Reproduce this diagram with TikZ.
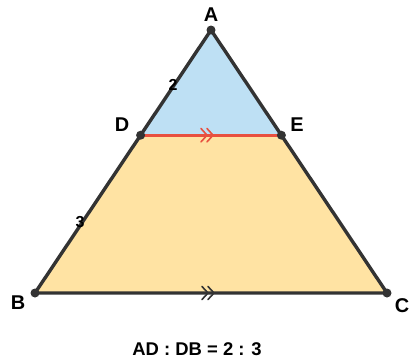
\documentclass[tikz,border=0pt]{standalone}
\usepackage{fontspec}
\setmainfont{Liberation Sans}
\definecolor{edge}{HTML}{333333}
\definecolor{topfill}{HTML}{BEE0F4}
\definecolor{botfill}{HTML}{FFE3A3}
\definecolor{redline}{HTML}{E8503F}
\begin{document}
\begin{tikzpicture}[x=1bp,y=-1bp,
  vlabel/.style={font=\bfseries\fontsize{20}{20}\selectfont},
  slabel/.style={font=\bfseries\fontsize{16}{16}\selectfont},
  dot/.style={circle,fill=edge,inner sep=0pt,minimum size=9bp},
  chev/.style={line width=1.6bp,line cap=round,line join=miter}]
\useasboundingbox (0,0) rectangle (409,362);
\coordinate (A) at (211,30);
\coordinate (B) at (35,293);
\coordinate (C) at (387,293);
\coordinate (D) at (140.6,135.2);
\coordinate (E) at (281.4,135.2);
\fill[topfill] (A) -- (D) -- (E) -- cycle;
\fill[botfill] (D) -- (B) -- (C) -- (E) -- cycle;
\draw[edge,line width=3.4bp,line join=round] (A) -- (B) -- (C) -- cycle;
\draw[redline,line width=3.4bp] (D) -- (E);
% chevrons
\draw[redline,chev] (201,128.5) -- (207,135.2) -- (201,141.9);
\draw[redline,chev] (207,128.5) -- (213,135.2) -- (207,141.9);
\draw[edge,chev] (202,286.5) -- (208,293) -- (202,299.5);
\draw[edge,chev] (208,286.5) -- (214,293) -- (208,299.5);
\node[dot] (dA) at (A) {};
\node[dot] (dB) at (B) {};
\node[dot] (dC) at (C) {};
\node[dot] (dD) at (D) {};
\node[dot] (dE) at (E) {};
\node[vlabel] (lA) at (211,15) {A};
\node[vlabel] (lD) at (122,125) {D};
\node[vlabel] (lE) at (297,125) {E};
\node[vlabel] (lB) at (18,303) {B};
\node[vlabel] (lC) at (402,306) {C};
\node[slabel] (l2) at (173,85) {2};
\node[slabel] (l3) at (80,222) {3};
\node[font=\bfseries\fontsize{18.5}{18.5}\selectfont] (ratio) at (197,349) {AD : DB = 2 : 3};
\end{tikzpicture}
\end{document}
